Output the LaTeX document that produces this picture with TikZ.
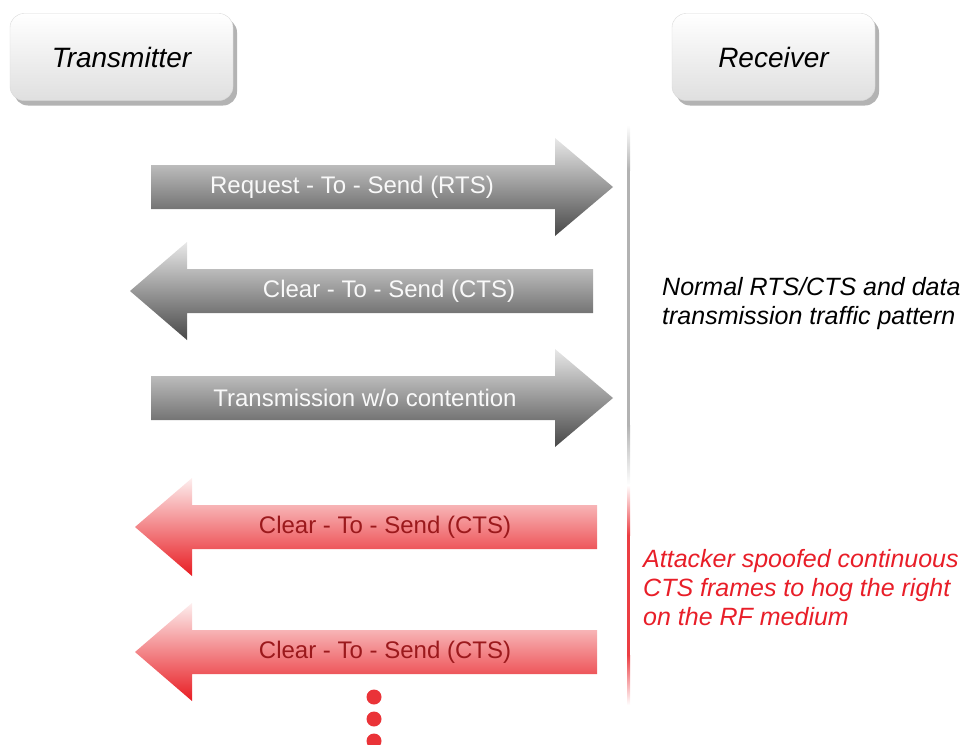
\documentclass[tikz,border=0pt]{standalone}
\usepackage{fontspec}
\setmainfont{Liberation Sans}
\usepackage{xcolor}
\usepackage{tikz}
\usetikzlibrary{shadows}

\definecolor{graytop}{RGB}{232,232,232}
\definecolor{graybot}{RGB}{72,72,72}
\definecolor{redtop}{RGB}{253,238,238}
\definecolor{redbot}{RGB}{232,28,34}
\definecolor{redtxt}{RGB}{232,30,40}
\definecolor{redlbl}{RGB}{155,25,28}
\definecolor{lifegray}{RGB}{178,178,178}

\begin{document}
\begin{tikzpicture}[x=1pt, y=-1pt,
  hdr/.style={rounded corners=14pt, draw=gray!30, top color=white, bottom color=gray!25,
    minimum height=87pt, inner sep=0pt,
    font=\fontsize{28}{32}\selectfont\itshape,
    drop shadow={shadow xshift=4pt, shadow yshift=-5pt, fill=black!40, opacity=.75}},
  grayarrow/.style={top color=graytop, bottom color=graybot},
  redarrow/.style={top color=redtop, bottom color=redbot},
  lbl/.style={inner sep=0pt, font=\fontsize{24}{28}\selectfont},
  note/.style={inner sep=0pt, anchor=west, align=left, font=\fontsize{25}{29}\selectfont\itshape}]
\useasboundingbox (0,0) rectangle (965,744);

% lifeline heads
\node[hdr, minimum width=223pt] (tx) at (121.5,57) {Transmitter};
\node[hdr, minimum width=203pt] (rx) at (773.5,57) {Receiver};

% receiver line, faded at the ends
\shade[top color=white, bottom color=lifegray] (627,125) rectangle (630,170);
\fill[lifegray] (627,170) rectangle (630,425);
\shade[top color=lifegray, bottom color=white] (627,425) rectangle (630,485);
\shade[top color=white, bottom color=redbot!85!white] (627,485) rectangle (630,535);
\fill[redbot!85!white] (627,535) rectangle (630,655);
\shade[top color=redbot!85!white, bottom color=white] (627,655) rectangle (630,705);

% normal exchange
\shade[grayarrow] (151,165) -- (555,165) -- (555,138) -- (613,187) -- (555,236) -- (555,209) -- (151,209) -- cycle;
\node[lbl, white!95!gray] (rts) at (352,187) {Request - To - Send (RTS)};

\shade[grayarrow] (593,269) -- (187,269) -- (187,242) -- (130,291) -- (187,340) -- (187,313) -- (593,313) -- cycle;
\node[lbl, white!95!gray] (cts) at (389,291) {Clear - To - Send (CTS)};

\shade[grayarrow] (151,376) -- (555,376) -- (555,349) -- (613,398) -- (555,447) -- (555,420) -- (151,420) -- cycle;
\node[lbl, white!95!gray] (data) at (365,398) {Transmission w/o contention};

\node[note] (normal) at (662,304) {Normal RTS/CTS and data\\transmission traffic pattern};

% spoofed CTS frames
\shade[redarrow] (597,505) -- (192,505) -- (192,478) -- (135,527) -- (192,576) -- (192,549) -- (597,549) -- cycle;
\node[lbl, redlbl] (fake1) at (385,527) {Clear - To - Send (CTS)};

\shade[redarrow] (597,630) -- (192,630) -- (192,603) -- (135,652) -- (192,701) -- (192,674) -- (597,674) -- cycle;
\node[lbl, redlbl] (fake2) at (385,652) {Clear - To - Send (CTS)};

\fill[redbot!90!white] (374,697) circle (7.5) (374,719) circle (7.5) (374,741) circle (7.5);

\node[note, redtxt] (attack) at (643,588) {Attacker spoofed continuous\\CTS frames to hog the right\\on the RF medium};
\end{tikzpicture}
\end{document}
